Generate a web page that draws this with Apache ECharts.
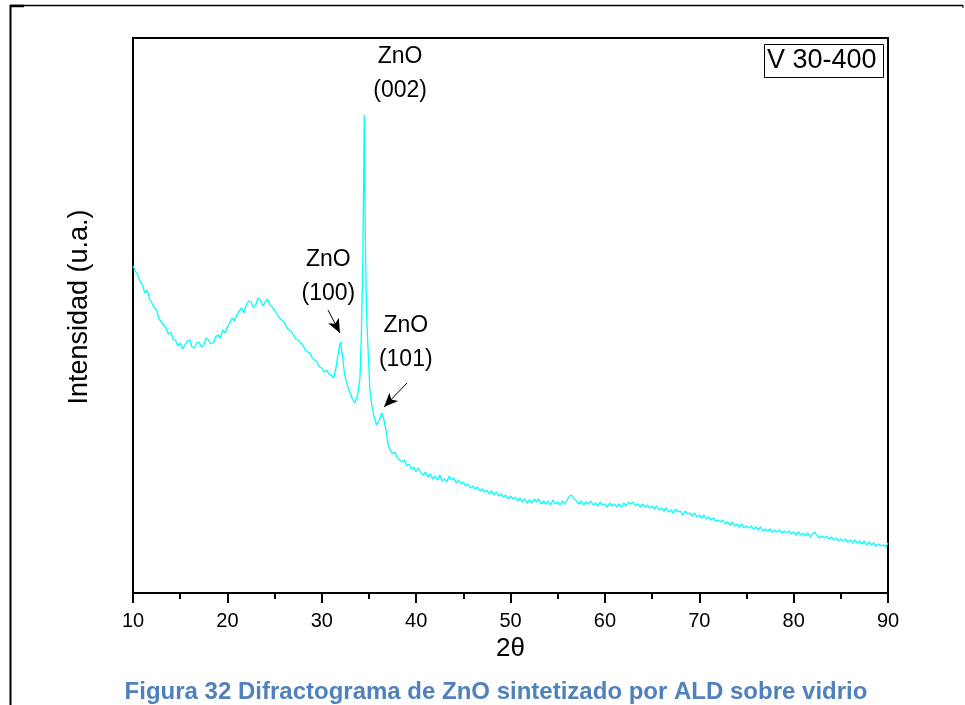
<!DOCTYPE html>
<html>
<head>
<meta charset="utf-8">
<script src="https://cdn.jsdelivr.net/npm/echarts@6/dist/echarts.min.js"></script>
<style>
html,body{margin:0;padding:0;background:#fff;}
#chart{width:965px;height:705px;}
</style>
</head>
<body>
<div id="chart"></div>
<script>
var twoTheta = [10,10.25,10.5,10.75,11,11.25,11.5,11.75,12,12.25,12.5,12.75,13,13.25,13.5,13.75,14,14.25,14.5,14.75,15,15.25,15.5,15.75,16,16.25,16.5,16.75,17,17.25,17.5,17.75,18,18.25,18.5,18.75,19,19.25,19.5,19.75,20,20.25,20.5,20.75,21,21.25,21.5,21.75,22,22.25,22.5,22.75,23,23.25,23.5,23.75,24,24.25,24.5,24.75,25,25.25,25.5,25.75,26,26.25,26.5,26.75,27,27.25,27.5,27.75,28,28.25,28.5,28.75,29,29.25,29.5,29.75,30,30.25,30.5,30.75,31,31.25,31.5,31.8,32.0,32.2,32.4,32.6,32.8,33.0,33.2,33.5,33.8,34.05,34.2,34.35,34.45,34.5,34.57,34.65,34.75,34.9,35.1,35.3,35.5,35.8,36.1,36.35,36.55,36.8,
37,37.25,37.5,37.75,38,38.25,38.5,38.75,39,39.25,39.5,39.75,40,40.25,40.5,40.75,41,41.25,41.5,41.75,42,42.25,42.5,42.75,43,43.25,43.5,43.75,44,44.25,44.5,44.75,45,45.25,45.5,45.75,46,46.25,46.5,46.75,47,47.25,47.5,47.75,48,48.25,48.5,48.75,49,49.25,49.5,49.75,50,50.25,50.5,50.75,51,51.25,51.5,51.75,52,52.25,52.5,52.75,53,53.25,53.5,53.75,54,54.25,54.5,54.75,55,55.25,55.5,55.75,56,56.25,56.5,56.75,57,57.25,57.5,57.75,58,58.25,58.5,58.75,59,59.25,59.5,59.75,60,60.25,60.5,60.75,61,61.25,61.5,61.75,62,62.25,62.5,62.75,63,63.25,63.5,63.75,64,64.25,64.5,64.75,65,65.25,65.5,65.75,66,66.25,66.5,66.75,67,67.25,67.5,67.75,68,68.25,68.5,68.75,69,69.25,69.5,69.75,70,70.25,70.5,70.75,71,71.25,71.5,71.75,72,72.25,72.5,72.75,73,73.25,73.5,73.75,74,74.25,74.5,74.75,75,75.25,75.5,75.75,76,76.25,76.5,76.75,77,77.25,77.5,77.75,78,78.25,78.5,78.75,79,79.25,79.5,79.75,80,80.25,80.5,80.75,81,81.25,81.5,81.75,82,82.25,82.5,82.75,83,83.25,83.5,83.75,84,84.25,84.5,84.75,85,85.25,85.5,85.75,86,86.25,86.5,86.75,87,87.25,87.5,87.75,88,88.25,88.5,88.75,89,89.25,89.5,89.75,90];
var intensity = [327,322,318,312,308,300,303,294,290,285,283,274,271,268,265,259,261,254,253,247,250,244,248,252,253,246,245,250,251,246,248,255,253,249,250,256,258,255,263,260,266,270,275,272,278,282,285,280,288,292,291,286,288,295,293,287,291,294,288,286,283,279,275,273,271,266,263,262,258,254,253,250,248,243,241,240,235,233,231,226,225,221,223,219,218,215,225,243,251,236,220,212,205,200,195,190,198,215,260,330,420,478,400,333,280,245,203,188,178,168,173,180,175,163,
150,143,139,141,135,133,131,133,127,129,124,126,121,125,120,118,121,116,119,114,117,113,118,112,114,111,117,113,115,110,113,109,111,107,109,105,107,104,106,102,104,101,103,99,102,98,101,97,99,96,98,94,97,94,96,92,95,91,94,90,93,90,94,91,94,89,92,89,92,88,93,89,91,88,92,89,93,97,98,94,92,89,92,88,91,89,92,88,90,87,91,88,89,86,90,87,89,86,89,86,90,87,91,89,91,87,89,86,89,86,88,85,87,84,87,83,85,82,85,81,83,80,84,81,82,78,82,79,80,77,80,76,78,75,78,74,76,73,75,72,73,71,73,69,71,68,71,67,69,66,69,65,67,65,67,64,66,63,66,62,64,62,64,61,63,61,63,60,62,60,62,59,61,58,61,58,60,57,60,56,59,61,57,55,57,55,57,54,56,53,55,52,54,52,54,51,53,50,53,50,52,49,52,48,51,48,50,47,49,47,48,46,50];
var xTicks = [10,20,30,40,50,60,70,80,90];
var peakLabels = [
  {name:'ZnO', hkl:'(002)', x:38.3, y:536},
  {name:'ZnO', hkl:'(100)', x:30.7, y:333},
  {name:'ZnO', hkl:'(101)', x:38.9, y:267}
];
var arrows = [
  [[30.66,283],[31.93,260]],
  [[39.03,210],[36.6,186]]
];
var sampleName = 'V 30-400';
var yTitle = 'Intensidad (u.a.)';

var seriesData = twoTheta.map(function(t,i){return [t,intensity[i]];});
var chart = echarts.init(document.getElementById('chart'), null, {renderer:'canvas'});
var F = 'Arial, "Liberation Sans", sans-serif';

var option = {
  backgroundColor:'#fff',
  animation:false,
  grid:{left:133,right:77,top:38,bottom:112,show:true,borderColor:'#000',borderWidth:2,backgroundColor:'transparent'},
  xAxis:{
    type:'value',min:10,max:90,interval:10,
    name:'2\u03B8',nameLocation:'middle',nameGap:40,
    nameTextStyle:{fontFamily:F,fontSize:26,color:'#000'},
    axisLine:{show:true,onZero:false,lineStyle:{color:'#000',width:2}},
    axisTick:{show:true,inside:false,length:10,lineStyle:{color:'#000',width:2}},
    minorTick:{show:true,splitNumber:2,length:6,lineStyle:{color:'#000',width:2}},
    axisLabel:{fontFamily:F,fontSize:20,color:'#000',margin:18,customValues:xTicks},
    splitLine:{show:false}
  },
  yAxis:{
    type:'value',min:0,max:555,
    axisLine:{show:true,lineStyle:{color:'#000',width:2}},
    axisTick:{show:false},axisLabel:{show:false},splitLine:{show:false}
  },
  series:[{
    type:'line',data:seriesData,showSymbol:false,symbol:'none',
    lineStyle:{color:'#00ffff',width:1.3},
    markLine:{
      silent:true,symbol:['none','arrow'],symbolSize:[9,14],
      lineStyle:{color:'#000',width:1,type:'solid'},
      label:{show:false},
      data:arrows.map(function(a){return [{coord:a[0]},{coord:a[1]}];})
    }
  }]
};
chart.setOption(option);

var g = [];
peakLabels.forEach(function(p){
  var px = chart.convertToPixel({gridIndex:0},[p.x,p.y]);
  g.push({type:'text',x:px[0],y:px[1],style:{text:p.name,font:'23px '+F,fill:'#000',textAlign:'center',textVerticalAlign:'middle'}});
  g.push({type:'text',x:px[0],y:px[1]+34,style:{text:p.hkl,font:'23px '+F,fill:'#000',textAlign:'center',textVerticalAlign:'middle'}});
});
g.push({type:'text',x:80,y:307,rotation:Math.PI/2,style:{text:yTitle,font:'27px '+F,fill:'#000',textAlign:'center',textVerticalAlign:'middle'}});
g.push({type:'rect',shape:{x:764.5,y:44.5,width:119,height:33},style:{fill:'#fff',stroke:'#000',lineWidth:1}});
g.push({type:'text',x:767,y:61,style:{text:sampleName,font:'27px '+F,fill:'#000',textVerticalAlign:'middle'}});
g.push({type:'line',shape:{x1:10,y1:5.5,x2:963,y2:5.5},style:{stroke:'#000',lineWidth:1.5}});
g.push({type:'line',shape:{x1:10,y1:6,x2:24,y2:6},style:{stroke:'#000',lineWidth:2.5}});
g.push({type:'line',shape:{x1:10.5,y1:5,x2:10.5,y2:705},style:{stroke:'#000',lineWidth:2}});
g.push({type:'line',shape:{x1:963,y1:5,x2:963,y2:8},style:{stroke:'#000',lineWidth:1}});
g.push({type:'text',x:496,y:692,style:{text:'Figura 32 Difractograma de ZnO sintetizado por ALD sobre vidrio',font:'bold 24px '+F,fill:'#4f81bd',textAlign:'center',textVerticalAlign:'middle'}});
chart.setOption({graphic:g});
</script>
</body>
</html>
